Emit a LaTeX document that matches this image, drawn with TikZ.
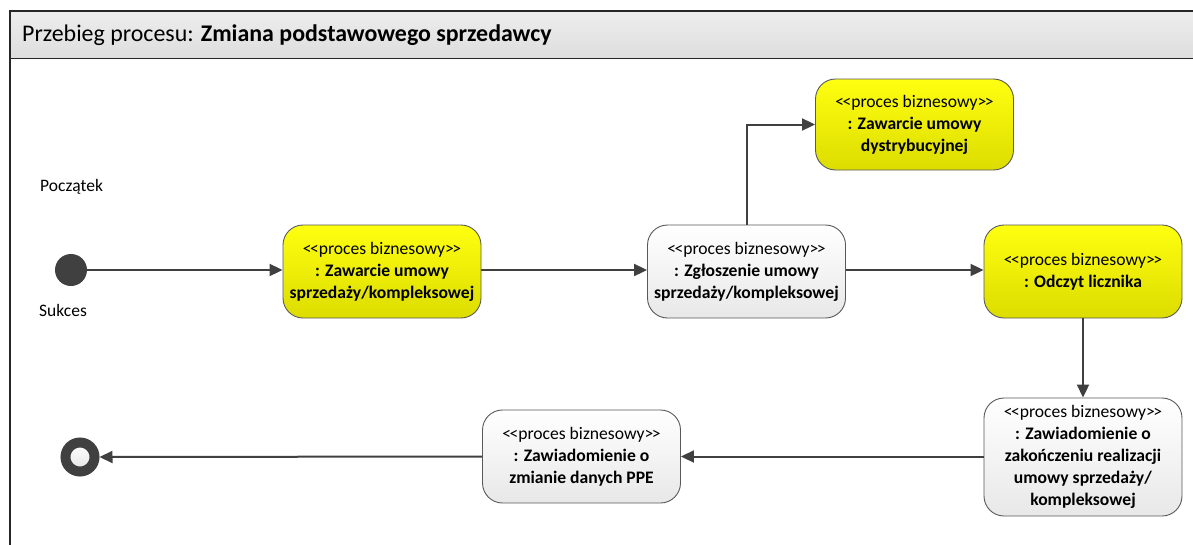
\documentclass[tikz,border=0pt]{standalone}
\usepackage{fontspec}
\newfontfamily\cf{Carlito}
\usetikzlibrary{arrows.meta}
\definecolor{edge}{HTML}{404040}
\definecolor{boxline}{HTML}{595959}
\definecolor{ytop}{HTML}{FFFF10}
\definecolor{ybot}{HTML}{DCDC00}
\definecolor{wtop}{HTML}{FFFFFF}
\definecolor{wbot}{HTML}{E8E8E8}
\newcommand\pbiz{<\kern-1.6pt<proces biznesowy>\kern-1.6pt>}
\tikzset{
  proc/.style={rounded corners=20pt, draw=boxline, line width=0.9pt, minimum width=198pt,
    align=center, font=\cf\fontsize{17.6}{22}\selectfont, inner sep=0pt},
  yproc/.style={proc, top color=ytop, bottom color=ybot, minimum height=93pt},
  wproc/.style={proc, top color=wtop, bottom color=wbot, minimum height=93pt},
  flow/.style={draw=edge, line width=2pt, -{Triangle[length=13pt,width=12pt]}},
  lbl/.style={font=\cf\fontsize{17.5}{20}\selectfont, anchor=west, inner sep=0pt}
}
\begin{document}
\begin{tikzpicture}[x=1pt,y=-1pt]
\useasboundingbox (0,0) rectangle (1193,544);
% frame
\shade[top color=white!93!black, bottom color=white!87!black] (10,11) rectangle (1200,58);
\draw[line width=1pt, color=black!85] (10,58) -- (1200,58);
\draw[line width=1.4pt, color=black!85] (10,560) -- (10,11) -- (1200,11);
\node[font=\cf\fontsize{23.9}{26}\selectfont, anchor=west, inner sep=0pt] (title) at (22,35) {Przebieg procesu: \textbf{Zmiana podstawowego sprzedawcy}};
% start / end
\node[circle, fill=edge, minimum size=32pt, inner sep=0pt] (start) at (71,270) {};
\node[circle, draw=edge, line width=10pt, top color=white, bottom color=white!90!black, minimum size=29pt, inner sep=0pt] (end) at (80,457) {};
\node[lbl] (poczatek) at (40,187) {Początek};
\node[lbl] (sukces) at (39,310) {Sukces};
% boxes
\node[yproc] (A) at (382,271.5) {\pbiz\\\textbf{: Zawarcie umowy}\\\textbf{sprzedaży/kompleksowej}};
\node[wproc] (B) at (746.5,271.5) {\pbiz\\\textbf{: Zgłoszenie umowy}\\\textbf{sprzedaży/kompleksowej}};
\node[yproc, minimum height=91pt] (C) at (914.5,124.5) {\pbiz\\\textbf{: Zawarcie umowy}\\\textbf{dystrybucyjnej}};
\node[yproc] (D) at (1083,271.5) {\pbiz\\\textbf{: Odczyt licznika}};
\node[wproc, minimum height=118pt] (E) at (1083,457) {\pbiz\\\textbf{: Zawiadomienie o}\\\textbf{zakończeniu realizacji}\\\textbf{umowy sprzedaży/}\\\textbf{kompleksowej}};
\node[wproc] (F) at (581.5,456.5) {\pbiz\\\textbf{: Zawiadomienie o}\\\textbf{zmianie danych PPE}};
% connectors
\draw[flow] (start.east) -- (A.west |- start.east);
\draw[flow] (A.east |- start.east) -- (B.west |- start.east);
\draw[flow] (B.east |- start.east) -- (D.west |- start.east);
\draw[flow] (B.north) |- (C.west);
\draw[flow] (D.south) -- (E.north);
\draw[flow] (E.west |- F.east) -- (F.east);
\draw[flow] (F.west) -- (end.east);
\end{tikzpicture}
\end{document}
